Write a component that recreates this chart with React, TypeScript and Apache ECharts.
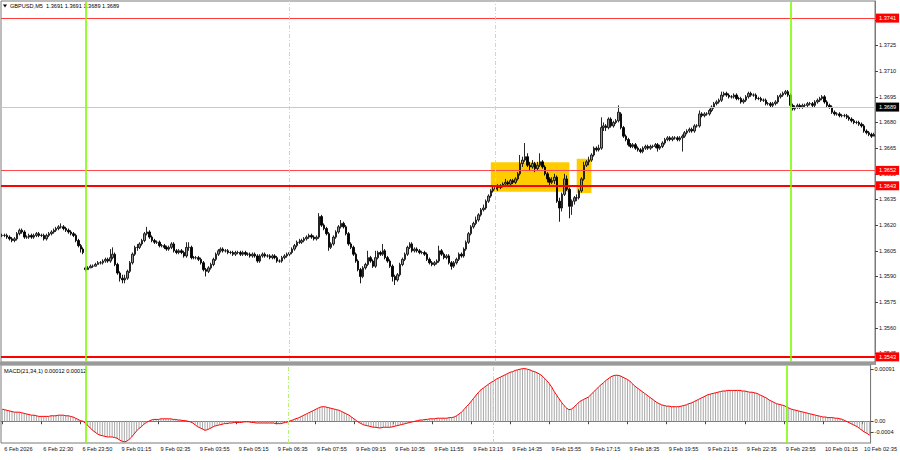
import React, { useEffect, useRef } from 'react';
import * as echarts from 'echarts';

// Prices are stored in pips (0.0001) relative to 1.3600
const PRICE_BASE = 1.36;
const PIP = 0.0001;
// MACD values stored in units of 0.00001
const MACD_UNIT = 0.00001;

const opens = [
14,14,14,13,12,11,12,15,17,16,
13,13,14,13,14,15,14,14,12,14,
15,16,17,18,19,19,18,17,16,15,
14,11,8,6,-5,-6,-5,-4,-4,-3,
-2,-2,-1,0,-1,1,3,-3,-8,-11,
-12,-11,-7,-2,3,7,7,9,11,15,
16,13,11,10,10,8,8,7,6,7,
9,5,4,5,4,2,7,7,1,1,
1,0,-2,-6,-7,-5,-3,0,3,5,
6,5,5,4,4,3,4,4,3,4,
3,3,2,3,2,-1,2,3,2,2,
1,2,1,-1,-1,1,2,3,4,6,
8,10,10,11,12,13,14,13,12,13,
25,20,18,15,7,9,13,16,19,21,
19,15,9,7,3,-1,-6,-10,-5,-3,
1,-1,-4,1,4,3,5,1,-1,-4,
-10,-12,-9,-3,0,3,7,9,5,6,
5,4,4,3,0,-2,-3,-2,-1,5,
3,1,2,-2,-4,-2,0,3,2,6,
10,15,19,21,23,26,29,30,34,37,
40,41,42,42,43,44,45,44,46,45,
47,50,56,58,60,55,54,56,53,55,
57,54,50,47,45,46,48,34,30,38,
47,41,31,34,36,36,40,47,55,57,
58,61,65,64,65,77,78,77,82,78,
80,81,85,77,72,70,67,66,67,65,
64,63,65,66,65,66,66,67,65,66,
68,70,71,70,71,71,70,71,72,74,
75,76,75,78,78,85,84,85,85,87,
89,91,92,93,96,97,96,95,95,96,
94,94,92,93,95,97,96,96,94,94,
93,93,91,91,90,91,92,95,96,97,
98,96,90,88,89,90,89,90,90,91,
91,90,92,93,94,95,92,90,89,86,
85,85,84,84,84,83,82,81,80,80,
79,78,75,74,73,72,
];

const closes = [
14,14,13,12,11,12,15,17,16,13,
13,14,13,14,15,14,14,12,14,15,
16,17,18,19,19,18,17,16,15,14,
11,8,6,4,-6,-5,-4,-4,-3,-2,
-2,-1,0,-1,1,3,-3,-8,-11,-12,
-11,-7,-2,3,7,7,9,11,15,16,
13,11,10,10,8,8,7,6,7,9,
5,4,5,4,2,7,7,1,1,1,
0,-2,-6,-7,-5,-3,0,3,5,6,
5,5,4,4,3,4,4,3,4,3,
3,2,3,2,-1,2,3,2,2,1,
2,1,-1,-1,1,2,3,4,6,8,
10,10,11,12,13,14,13,12,13,25,
20,18,15,7,9,13,16,19,21,19,
15,9,7,3,-1,-6,-10,-5,-3,1,
-1,-4,1,4,3,5,1,-1,-4,-10,
-12,-9,-3,0,3,7,9,5,6,5,
4,4,3,0,-2,-3,-2,-1,5,3,
1,2,-2,-4,-2,0,3,2,6,10,
15,19,21,23,26,29,30,34,37,40,
41,42,42,43,44,45,44,46,45,47,
50,56,58,60,55,54,56,53,55,57,
54,50,47,45,46,48,34,30,38,47,
41,31,34,36,36,40,47,55,57,58,
61,65,64,65,77,78,77,82,78,80,
81,86,77,72,70,67,66,67,65,64,
63,65,66,65,66,66,67,65,66,68,
70,71,70,71,71,70,71,72,74,75,
76,75,78,78,85,84,85,85,87,89,
91,92,93,96,97,96,95,95,96,94,
94,92,93,95,97,96,96,94,94,93,
93,91,91,90,91,92,95,96,97,98,
96,90,88,89,90,89,90,90,91,91,
90,92,93,94,95,92,90,89,86,85,
85,84,84,84,83,82,81,80,80,79,
78,75,74,73,72,73,
];

const highs = [
15,15,15,14,13,13,16,18,18,17,
14,15,15,15,16,16,15,15,15,16,
17,18,19,20,21,20,19,18,17,16,
15,12,9,7,-4,-4,-3,-3,-2,-1,
-1,0,1,1,6,7,4,-2,-7,-9,
-9,-6,-1,4,8,9,10,12,16,19,
17,14,12,11,11,9,9,8,8,10,
10,6,6,6,5,10,10,8,2,2,
2,1,-1,-5,-4,-2,1,4,6,7,
7,6,6,5,5,5,5,5,5,5,
4,4,4,4,3,3,4,4,3,3,
3,3,2,0,2,3,4,5,7,9,
11,12,12,13,14,15,15,14,14,27,
26,21,19,16,10,14,17,20,23,22,
20,16,10,8,4,0,-5,-4,-2,5,
2,0,5,5,5,9,6,2,0,-3,
-9,-8,-2,1,4,8,10,10,7,7,
6,5,5,4,1,-1,-1,0,8,6,
4,3,3,-1,-1,1,4,4,7,11,
16,20,22,25,27,30,32,35,38,41,
43,43,44,44,45,47,46,47,47,48,
51,61,60,68,62,57,58,57,57,62,
58,55,51,48,48,50,49,36,39,50,
49,42,35,37,38,41,48,57,58,60,
62,66,66,67,83,80,79,83,83,81,
82,90,86,78,73,71,68,68,68,66,
65,66,67,67,67,67,68,68,67,69,
71,72,72,72,72,72,72,73,75,76,
77,77,79,79,87,86,86,86,88,90,
92,93,94,98,98,98,97,96,97,97,
95,95,94,96,98,98,97,97,95,95,
94,94,92,92,92,93,96,97,98,99,
99,97,91,90,91,91,91,91,92,92,
92,93,94,95,96,96,93,91,90,87,
86,86,85,85,85,84,83,82,81,81,
80,79,76,75,74,74,
];

const lows = [
13,13,12,11,10,10,11,14,15,12,
12,12,12,12,13,13,13,11,11,13,
14,15,16,17,18,17,16,15,14,13,
10,7,4,3,-7,-6,-5,-5,-4,-3,
-3,-3,-2,-2,-2,0,-4,-9,-13,-14,
-14,-12,-8,-3,2,5,6,8,10,14,
12,10,9,9,7,7,6,5,5,6,
4,3,3,3,1,1,5,0,0,0,
-1,-3,-7,-10,-8,-6,-4,-1,2,4,
4,4,3,3,2,2,3,2,2,2,
2,1,1,1,-2,-2,1,1,1,0,
0,0,-2,-2,-2,0,1,2,3,5,
7,9,9,10,11,12,12,11,11,12,
19,17,14,5,6,8,12,15,18,18,
14,8,6,2,-2,-7,-14,-11,-6,-4,
-2,-5,-5,0,2,2,0,-2,-5,-13,
-15,-13,-10,-4,-1,2,6,4,4,4,
3,3,2,-1,-3,-4,-4,-3,-2,2,
0,0,-3,-6,-5,-3,-1,1,1,5,
9,14,18,20,22,25,28,29,33,36,
39,40,40,41,42,43,43,43,44,44,
46,49,54,57,54,52,53,51,52,54,
53,49,45,43,44,44,33,22,28,37,
40,24,26,32,34,35,39,46,54,55,
57,60,63,63,64,75,75,76,77,77,
79,80,76,71,69,66,65,65,64,63,
62,62,64,64,64,65,65,63,64,65,
67,69,69,69,70,69,69,63,71,73,
74,74,74,77,77,83,83,84,84,86,
88,90,91,92,95,95,94,94,94,93,
93,91,91,92,94,95,95,93,93,92,
92,90,90,89,89,90,91,94,95,96,
95,89,87,87,88,88,88,89,89,90,
89,89,91,92,93,91,89,88,85,84,
84,83,83,83,82,81,80,79,79,78,
77,74,73,72,71,72,
];

const macd = [
20,19,18,17,16,15,15,15,14,13,
12,11,10,10,9,8,8,8,8,8,
9,9,9,10,10,10,9,9,8,7,
5,3,1,0,-3,-7,-11,-15,-18,-21,
-23,-24,-25,-26,-26,-26,-27,-28,-31,-33,
-34,-33,-30,-26,-21,-16,-12,-9,-5,-2,
0,2,3,3,3,4,4,4,4,4,
3,3,2,2,1,1,0,-1,-3,-6,
-9,-11,-13,-15,-14,-12,-10,-8,-7,-6,
-5,-4,-4,-3,-3,-2,-2,-2,-2,-1,
-1,-1,-2,-2,-3,-3,-3,-3,-3,-3,
-3,-3,-4,-4,-4,-3,-2,-1,1,2,
4,5,7,9,11,13,15,17,19,21,
23,24,24,23,22,21,20,19,18,16,
14,12,10,7,4,1,-2,-4,-6,-7,
-8,-9,-10,-10,-11,-11,-10,-10,-10,-10,
-9,-8,-7,-6,-5,-4,-3,-2,-1,0,
1,2,2,3,3,4,4,4,5,5,
5,5,5,6,6,7,9,12,15,19,
24,28,33,38,43,48,52,55,58,61,
64,66,69,71,73,75,77,79,81,82,
84,85,86,87,87,86,85,83,82,80,
78,75,71,67,62,56,49,43,37,31,
26,22,19,20,23,27,31,34,36,38,
40,44,48,52,56,60,63,67,70,73,
75,76,76,75,73,71,69,66,62,58,
55,52,49,46,43,40,37,34,31,29,
27,26,25,25,24,24,24,24,25,26,
27,29,30,32,34,36,38,40,42,44,
45,46,47,48,49,50,50,51,51,51,
51,51,51,50,50,49,48,48,47,46,
44,42,40,38,35,33,31,29,28,27,
26,24,22,20,19,18,17,16,15,14,
13,12,11,10,9,8,7,7,6,6,
6,5,5,4,3,1,-1,-3,-5,-7,
-9,-12,-15,-18,-20,-23,
];
// MACD(21,34,1): signal line is the 1-period SMA of the main line
const signal = macd;

const tickLabels = [
  '6 Feb 2026', '6 Feb 22:30', '6 Feb 23:50', '9 Feb 01:15', '9 Feb 02:35', '9 Feb 03:55',
  '9 Feb 05:15', '9 Feb 06:35', '9 Feb 07:55', '9 Feb 09:15', '9 Feb 10:35', '9 Feb 11:55',
  '9 Feb 13:15', '9 Feb 14:35', '9 Feb 15:55', '9 Feb 17:15', '9 Feb 18:35', '9 Feb 19:55',
  '9 Feb 21:15', '9 Feb 22:35', '9 Feb 23:55', '10 Feb 01:15', '10 Feb 02:35',
];
const priceTicks = [1.3545, 1.356, 1.3575, 1.359, 1.3605, 1.362, 1.3635, 1.365, 1.3665, 1.368, 1.3695, 1.371, 1.3725, 1.374];
const levelLines = [1.3741, 1.3652, 1.3643, 1.3543];
const bidPrice = 1.3689;
const macdTickValues = [0.000866, 0, -0.000176];
const macdTickTexts = ['0.00091', '0.00', '-0.0004'];
const daySeparatorBars = [34, 321];
const sessionBars = [117, 201];
const zones = [
  { from: 199, to: 231, low: 1.36395, high: 1.36568 },
  { from: 234, to: 240, low: 1.36388, high: 1.36588 },
];

const N = closes.length;
const pad = (n: number) => String(n).padStart(2, '0');
const categories: string[] = [];
for (let i = 0; i < N; i++) {
  let day: string; let mins: number;
  if (i < 34) { day = '6 Feb'; mins = 21 * 60 + 10 + i * 5; }
  else if (i < 321) { day = '9 Feb'; mins = 5 + (i - 34) * 5; }
  else { day = '10 Feb'; mins = (i - 321) * 5; }
  categories.push(`${day} ${pad(Math.floor(mins / 60))}:${pad(mins % 60)}`);
}

const toPrice = (p: number) => +(PRICE_BASE + p * PIP).toFixed(5);
const ohlc = closes.map((c, i) => [toPrice(opens[i]), toPrice(c), toPrice(lows[i]), toPrice(highs[i])]);
const macdData = macd.map((v) => +(v * MACD_UNIT).toFixed(6));
const signalData = signal.map((v) => +(v * MACD_UNIT).toFixed(6));

const FONT = '"Liberation Sans", Arial, sans-serif';
const FS = 5.6;

const levelStyles = [
  { color: '#ff3b3b', width: 1 },
  { color: '#ff4a4a', width: 1 },
  { color: '#ff0000', width: 2 },
  { color: '#ff0000', width: 2 },
];

const verticalMarks = () => [
  ...daySeparatorBars.map((b) => ({ xAxis: categories[b], lineStyle: { color: '#7cfc00', width: 1.6, type: 'solid' }, label: { show: false } })),
  ...sessionBars.map((b) => ({ xAxis: categories[b], lineStyle: { color: '#b8f07a', width: 1, type: [4, 2, 1, 2] }, label: { show: false } })),
];

const priceLabel = (bg: string) => ({
  show: true, position: 'end', distance: 1, color: '#fff', backgroundColor: bg,
  padding: [2, 3, 1, 3], fontSize: FS, fontFamily: FONT,
});

const option: any = {
  animation: false,
  backgroundColor: '#ffffff',
  textStyle: { fontFamily: FONT },
  grid: [
    { left: 1, top: 1, width: 874, height: 361, show: true, borderColor: '#7a7a7a', borderWidth: 1, backgroundColor: '#ffffff' },
    { left: 1, top: 365, width: 874, height: 78, show: true, borderColor: '#7a7a7a', borderWidth: 1, backgroundColor: '#ffffff' },
  ],
  xAxis: [
    {
      type: 'category', gridIndex: 0, data: categories, boundaryGap: true,
      axisLine: { show: false }, axisTick: { show: false }, axisLabel: { show: false }, splitLine: { show: false },
    },
    {
      type: 'category', gridIndex: 1, data: categories, boundaryGap: true,
      axisLine: { show: true, lineStyle: { color: '#7a7a7a' } },
      axisTick: { show: true, interval: 15, alignWithLabel: true, length: 3, lineStyle: { color: '#444' } },
      axisLabel: {
        interval: 15, align: 'left', margin: 3, fontSize: FS, fontFamily: FONT, color: '#111',
        padding: [0, 0, 0, 2],
        formatter: (_v: string, idx: number) => tickLabels[idx / 16] ?? '',
      },
      splitLine: { show: false },
    },
  ],
  yAxis: [
    {
      type: 'value', gridIndex: 0, position: 'right', min: 1.354, max: 1.3751,
      axisLine: { show: true, lineStyle: { color: '#7a7a7a' } },
      axisTick: { show: true, length: 3, lineStyle: { color: '#444' }, customValues: priceTicks },
      axisLabel: { customValues: priceTicks, formatter: (v: number) => v.toFixed(4), fontSize: FS, fontFamily: FONT, color: '#111', margin: 4 },
      splitLine: { show: false },
    },
    {
      type: 'value', gridIndex: 1, position: 'right', min: -0.00036, max: 0.00093,
      axisLine: { show: true, lineStyle: { color: '#7a7a7a' } },
      axisTick: { show: true, length: 3, lineStyle: { color: '#444' }, customValues: macdTickValues },
      axisLabel: {
        customValues: macdTickValues, fontSize: FS, fontFamily: FONT, color: '#111', margin: 4,
        formatter: (v: number) => macdTickTexts[macdTickValues.findIndex((t) => Math.abs(t - v) < 1e-9)] ?? '',
      },
      splitLine: { show: false },
    },
  ],
  series: [
    {
      type: 'candlestick', xAxisIndex: 0, yAxisIndex: 0, data: ohlc, barWidth: 2,
      itemStyle: { color: '#8f8f8f', color0: '#000000', borderColor: '#111111', borderColor0: '#000000', borderWidth: 0.9 },
      markArea: {
        silent: true,
        itemStyle: { color: '#ffcc00', opacity: 1 },
        data: zones.map((z) => [
          { xAxis: categories[z.from], yAxis: z.high },
          { xAxis: categories[z.to], yAxis: z.low },
        ]),
      },
      markLine: {
        silent: true, symbol: ['none', 'none'], animation: false, precision: 6,
        data: [
          { yAxis: bidPrice, lineStyle: { color: '#c8c8c8', width: 1, type: 'solid' },
            label: { ...priceLabel('#000'), formatter: bidPrice.toFixed(4) } },
          ...levelLines.map((lv, k) => ({
            yAxis: lv,
            lineStyle: { ...levelStyles[k], type: 'solid' },
            label: { ...priceLabel('#ff0000'), formatter: lv.toFixed(4) },
          })),
          ...verticalMarks(),
        ],
      },
    },
    {
      type: 'bar', xAxisIndex: 1, yAxisIndex: 1, data: macdData, barWidth: 1,
      itemStyle: { color: '#a8a8a8' },
      markLine: { silent: true, symbol: ['none', 'none'], animation: false, precision: 6, data: verticalMarks() },
    },
    {
      type: 'line', xAxisIndex: 1, yAxisIndex: 1, data: signalData, symbol: 'none',
      lineStyle: { color: '#ff0000', width: 1 },
    },
  ],
  graphic: [
    { type: 'rect', left: 0, top: 362, shape: { width: 876, height: 3 }, style: { fill: '#9a9a9a' }, silent: true },
    { type: 'polygon', shape: { points: [[3, 4.5], [7, 4.5], [5, 7.5]] }, style: { fill: '#000' }, silent: true },
    { type: 'text', left: 10, top: 3, style: { text: 'GBPUSD,M5  1.3691 1.3691 1.3689 1.3689', font: `${FS}px ${FONT}`, fill: '#000' }, silent: true },
    { type: 'text', left: 4, top: 368, style: { text: 'MACD(21,34,1) 0.00012 0.00012', font: `${FS}px ${FONT}`, fill: '#000' }, silent: true },
  ],
};

export default function App() {
  const ref = useRef<HTMLDivElement>(null);
  useEffect(() => {
    if (!ref.current) return;
    const chart = echarts.init(ref.current, null, { renderer: 'svg' });
    chart.setOption(option);
    return () => chart.dispose();
  }, []);
  return <div ref={ref} style={{ position: 'fixed', left: 0, top: 0, width: 900, height: 460, background: '#fff' }} />;
}
